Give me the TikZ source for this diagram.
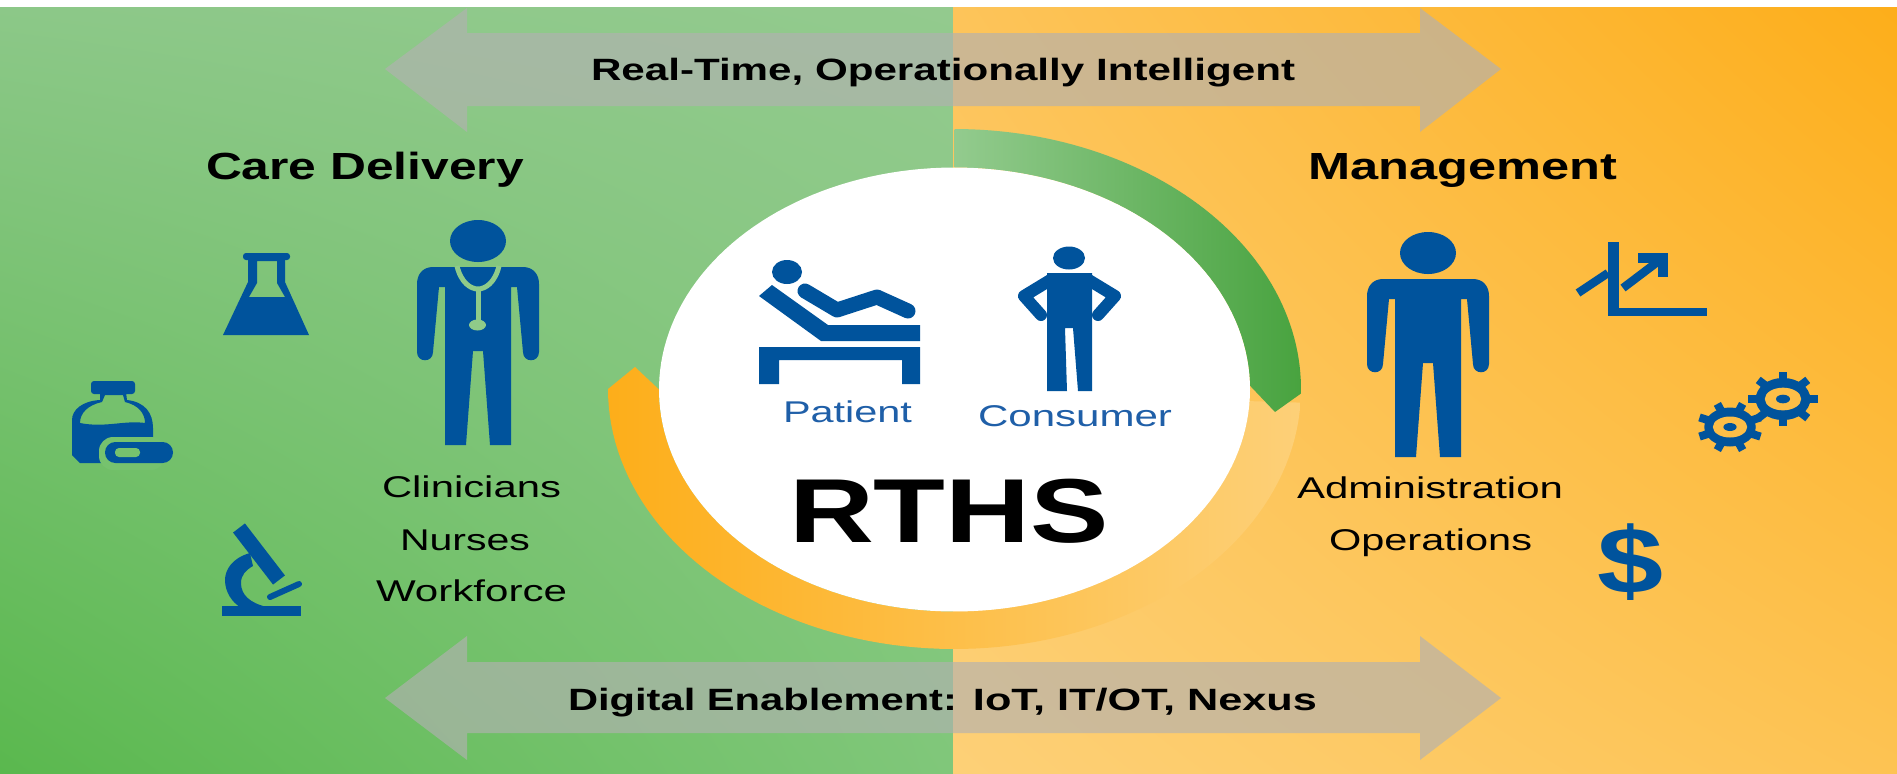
\documentclass[tikz,border=0pt]{standalone}
\usepackage{fontspec}
\usetikzlibrary{shadings}
\setmainfont{Liberation Sans}
\definecolor{iconblue}{HTML}{00539C}
\definecolor{textblue}{HTML}{1F5FA8}
\definecolor{stethlight}{HTML}{8FCB89}
\definecolor{gearhole}{HTML}{FDBE47}
\definecolor{pillgap}{HTML}{76C26E}
\definecolor{gUL}{RGB}{140,200,136}
\definecolor{gUR}{RGB}{147,202,142}
\definecolor{gLL}{RGB}{90,184,78}
\definecolor{gLR}{RGB}{128,199,122}
\definecolor{oUL}{RGB}{253,196,90}
\definecolor{oUR}{RGB}{253,174,26}
\definecolor{oLL}{RGB}{253,208,119}
\definecolor{oLR}{RGB}{253,195,83}
\definecolor{arrowgray}{RGB}{178,177,177}
\definecolor{ringoA}{RGB}{253,174,26}
\definecolor{ringoB}{RGB}{253,208,120}
\definecolor{ringgA}{RGB}{147,203,142}
\definecolor{ringgB}{RGB}{72,163,63}
\newcommand{\fitw}[2]{\resizebox{#1}{\height}{#2}}
\newcommand{\geardraw}[5]{%
  \foreach \a in {0,45,...,315}{
    \draw[iconblue,line width=4pt] ({#1+0.6*#3*cos(\a+#5)},{#2+0.6*#4*sin(\a+#5)}) -- ({#1+#3*cos(\a+#5)},{#2+#4*sin(\a+#5)});
  }
  \fill[iconblue] (#1,#2) circle[x radius=0.78*#3,y radius=0.78*#4];
  \fill[gearhole] (#1,#2) circle[x radius=0.52*#3,y radius=0.42*#4];
  \fill[iconblue] (#1,#2) circle[x radius=0.2*#3,y radius=0.16*#4];
}
\tikzset{
  lbl/.style={anchor=base west,inner sep=0pt,outer sep=0pt,text=black},
  bigarrow/.style={fill=arrowgray,fill opacity=0.65,draw=none},
  personpic/.pic={
    \fill[iconblue] (0,-26) circle[x radius=28,y radius=21];
    \fill[iconblue] (-45,0) -- (45,0) .. controls (55,0) and (61,7) .. (61,17) -- (61,85)
      .. controls (61,96) and (45,96) .. (45,85) -- (39,20) -- (33,20) -- (33,178) -- (12,178)
      -- (5,84) -- (-5,84) -- (-12,178) -- (-33,178) -- (-33,20) -- (-39,20) -- (-45,85)
      .. controls (-45,96) and (-61,96) .. (-61,85) -- (-61,17) .. controls (-61,7) and (-55,0) .. (-45,0) -- cycle;
  }
}
\begin{document}
\begin{tikzpicture}[x=0.5pt,y=-0.5pt]
\useasboundingbox (0,0) rectangle (1897,773);
\fill[white] (0,0) rectangle (1897,773);
% backgrounds
\shade[upper left=gUL,upper right=gUR,lower left=gLL,lower right=gLR] (0,7) rectangle (953,773);
\shade[upper left=oUL,upper right=oUR,lower left=oLL,lower right=oLR] (953,7) rectangle (1897,773);
% arrows
\path[bigarrow] (385,69) -- (467,8) -- (467,33) -- (1420,33) -- (1420,8) -- (1501,69) -- (1420,132) -- (1420,106) -- (467,106) -- (467,132) -- cycle;
\path[bigarrow] (385,698) -- (467,636) -- (467,662) -- (1420,662) -- (1420,636) -- (1501,698) -- (1420,760) -- (1420,733) -- (467,733) -- (467,760) -- cycle;
% ring
\shade[left color=ringoA,right color=ringoB]
  (635,367) -- plot[domain=180:3,samples=90] ({954.5+346.5*cos(\x)},{389+260*sin(\x)})
  -- plot[domain=3:180,samples=90] ({954.5+295.5*cos(\x)},{389.5+222*sin(\x)}) -- cycle;
\shade[left color=ringgA,right color=ringgB]
  (1275,412) -- plot[domain=-1:-90,samples=60] ({954.5+295.5*cos(\x)},{389.5+222*sin(\x)})
  -- plot[domain=-90:1,samples=60] ({954.5+346.5*cos(\x)},{389+260*sin(\x)}) -- cycle;
\fill[white] plot[domain=0:360,samples=180] ({954.5+295.5*cos(\x)},{389.5+222*sin(\x)}) -- cycle;
% doctor
\pic (doc) at (478,267) {personpic};
\draw[stethlight,line width=2.5pt] (457,266) .. controls (461,283) and (471,289) .. (478,289) .. controls (485,289) and (495,283) .. (499,266);
\draw[stethlight,line width=2.5pt] (478,289) -- (478,322);
\fill[stethlight] (477.5,325) circle[x radius=8.5,y radius=5.5];
% admin
\pic (adm) at (1428,279) {personpic};
% flask
\fill[iconblue,rounded corners=1.5pt] (243,253) rectangle (290,260);
\fill[iconblue,even odd rule] (248,258) -- (285,258) -- (285,282) -- (309,335) -- (223,335) -- (248,282) -- cycle
  (257,261) -- (277,261) -- (277,283) -- (285,297) -- (249,297) -- (257,283) -- cycle;
% bottle
\fill[iconblue,rounded corners=1.5pt] (91,381) rectangle (135,394);
\fill[iconblue,even odd rule] (100,392) -- (126,392) -- (127,400) .. controls (145,402) and (153,413) .. (153,428) -- (153,463) -- (80,463) -- (72,455) -- (72,420) .. controls (72,410) and (82,401) .. (100,400) -- cycle
  (105,395) -- (123,395) -- (125,402) .. controls (138,405) and (145,413) .. (145,423) .. controls (125,420) and (105,428) .. (80,423) .. controls (80,413) and (88,405) .. (102,402) -- cycle;
\fill[pillgap,rounded corners=7pt] (99,437) rectangle (165,470);
\fill[iconblue,rounded corners=5.2pt] (105,442) rectangle (173,463);
\fill[pillgap,rounded corners=2pt] (115,448) rectangle (140,457);
% microscope
\fill[iconblue] (222,606) rectangle (301,616);
\draw[iconblue,line width=7.5pt] (239,528) -- (279,580);
\draw[iconblue,line width=3pt,line cap=round] (270,597) -- (299,584);
\fill[iconblue] (250,553) .. controls (232,558) and (225,570) .. (225,580) .. controls (225,592) and (232,602) .. (240,607) -- (267,607) .. controls (250,603) and (241,595) .. (241,583) .. controls (241,575) and (246,570) .. (253,566) -- cycle;
% patient
\fill[iconblue] (787,272) circle[x radius=15,y radius=12];
\draw[iconblue,line width=7.5pt,line cap=round,line join=round] (805,291) -- (837,310) -- (877,297) -- (908,311);
\fill[iconblue] (772,285) -- (759,296) -- (821,341) -- (920,341) -- (920,325) -- (828,325) -- cycle;
\fill[iconblue] (759,347) -- (920,347) -- (920,384) -- (902,384) -- (902,360) -- (779,360) -- (779,384) -- (759,384) -- cycle;
% consumer
\fill[iconblue] (1069,258) circle[x radius=16,y radius=11.5];
\fill[iconblue] (1047,273) -- (1092,273) -- (1092,391) -- (1078,391) -- (1073,328) -- (1065,328) -- (1067,391) -- (1047,391) -- cycle;
\draw[iconblue,line width=6pt,line join=round,line cap=round] (1052,279) -- (1024,296) -- (1041,315);
\draw[iconblue,line width=6pt,line join=round,line cap=round] (1087,279) -- (1115,296) -- (1098,315);
% chart
\fill[iconblue] (1608,242) rectangle (1619,316);
\fill[iconblue] (1608,308) rectangle (1707,316);
\draw[iconblue,line width=4.2pt] (1578,293) -- (1608,273);
\draw[iconblue,line width=4.2pt] (1623,288) -- (1660,260);
\draw[iconblue,line width=4.8pt] (1638,258) -- (1663,258) -- (1663,277);
% gears
\geardraw{1730}{427}{33}{25}{22.5}
\geardraw{1783}{399}{35}{27}{0}
% texts
\node[lbl,text=iconblue] (dollar) at (1597,593) {\fontsize{47}{47}\selectfont\bfseries\fitw{33pt}{\$}};
\node[lbl] (rt) at (591,80) {\fontsize{15.4}{18}\selectfont\bfseries\fitw{352pt}{Real-Time, Operationally Intelligent}};
\node[lbl] (care) at (206,179) {\fontsize{18.9}{22}\selectfont\bfseries\fitw{159pt}{Care Delivery}};
\node[lbl] (mgmt) at (1308,179) {\fontsize{18.9}{22}\selectfont\bfseries\fitw{154.5pt}{Management}};
\node[lbl] (clin) at (382,497) {\fontsize{15}{18}\selectfont\fitw{89.5pt}{Clinicians}};
\node[lbl] (nurs) at (400,550) {\fontsize{15}{18}\selectfont\fitw{65pt}{Nurses}};
\node[lbl] (work) at (376,601) {\fontsize{15}{18}\selectfont\fitw{95.5pt}{Workforce}};
\node[lbl] (admn) at (1297,498) {\fontsize{15}{18}\selectfont\fitw{133pt}{Administration}};
\node[lbl] (oper) at (1329,550) {\fontsize{15}{18}\selectfont\fitw{101.5pt}{Operations}};
\node[lbl] (rths) at (789,542) {\fontsize{45.4}{50}\selectfont\bfseries\fitw{160pt}{RTHS}};
\node[lbl] (digi) at (568,710) {\fontsize{15.4}{18}\selectfont\bfseries\fitw{194.5pt}{Digital Enablement:}\ \hspace{3.7pt}\fitw{172pt}{IoT, IT/OT, Nexus}};
\node[lbl,text=textblue] (pat) at (783,422) {\fontsize{15}{18}\selectfont\fitw{64.5pt}{Patient}};
\node[lbl,text=textblue] (cons) at (978,426) {\fontsize{15}{18}\selectfont\fitw{97pt}{Consumer}};
\end{tikzpicture}
\end{document}
